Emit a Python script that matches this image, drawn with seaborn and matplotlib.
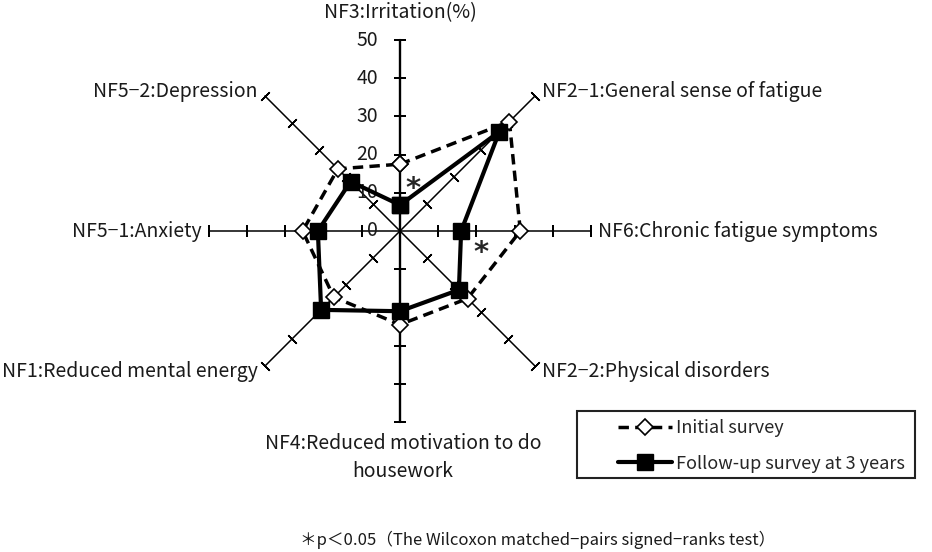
#Radar chart: initial survey vs follow-up survey at 3 years
import numpy as np
import matplotlib
matplotlib.use("Agg")
import matplotlib.pyplot as plt
import seaborn as sns
from matplotlib.patches import Rectangle

sns.set_style("white")
plt.rcParams["font.family"] = ["Noto Sans CJK JP", "DejaVu Sans"]
plt.rcParams["axes.unicode_minus"] = False

#Data (%)
categories = [
    "NF3:Irritation(%)",
    "NF2−1:General sense of fatigue",
    "NF6:Chronic fatigue symptoms",
    "NF2−2:Physical disorders",
    "NF4:Reduced motivation to do\nhousework",
    "NF1:Reduced mental energy",
    "NF5−1:Anxiety",
    "NF5−2:Depression",
]
initial = [17.5, 40.5, 31.5, 25.0, 24.5, 24.5, 25.5, 23.0]
followup = [6.8, 36.8, 16.0, 21.8, 21.0, 29.2, 21.5, 18.3]
ticks = [0, 10, 20, 30, 40, 50]
tick_labels = ["0", "10", "20", "30", "40", "50"]
series_labels = ["Initial survey", "Follow-up survey at 3 years"]
footnote = "＊p＜0.05（The Wilcoxon matched−pairs signed−ranks test）"

#Label placement (offset in points, alignment)
label_layout = [
    ((0, 20), "center", "center"),
    ((5, 3), "left", "center"),
    ((5, 0), "left", "center"),
    ((5, -4), "left", "center"),
    ((2, -8), "center", "top"),
    ((-5, -4), "right", "center"),
    ((-5, 0), "right", "center"),
    ((-5, 3), "right", "center"),
]

W, H = 932, 552
fig = plt.figure(figsize=(W / 100, H / 100), dpi=100)
cx, cy, R = 400, 231, 191
ax = fig.add_axes([(cx - R) / W, (H - cy - R) / H, 2 * R / W, 2 * R / H], projection="polar")
ax.set_theta_zero_location("N")
ax.set_theta_direction(-1)
ax.set_ylim(0, ticks[-1])
ax.grid(False)
ax.spines["polar"].set_visible(False)
ax.set_xticks([])
ax.set_yticks([])
ax.patch.set_alpha(0)

n = len(categories)
theta = np.arange(n) * 2 * np.pi / n

#Spokes with tick marks
for i, t in enumerate(theta):
    lw = 1.7 if i in (0, 4) else 1.1
    ax.plot([t, t], [0, ticks[-1]], color="black", lw=lw, zorder=1, clip_on=False)
    rot = 90 - np.degrees(t)
    ax.plot([t] * (len(ticks) - 1), ticks[1:], ls="none", color="black",
            marker=(2, 2, rot), markersize=8.5, markeredgewidth=1.1, zorder=1, clip_on=False)

#Value axis labels
for r, lbl in zip(ticks, tick_labels):
    ax.annotate(lbl, xy=(0, r), xytext=(-15.8, 0), textcoords="offset points",
                ha="right", va="center", fontsize=14, color="#1a1a1a")

#Category labels
for t, lbl, (off, ha, va) in zip(theta, categories, label_layout):
    ax.annotate(lbl, xy=(t, ticks[-1]), xytext=off, textcoords="offset points",
                ha=ha, va=va, fontsize=14, color="#1a1a1a", linespacing=1.4,
                multialignment="center", annotation_clip=False)

#Series
th_closed = np.append(theta, theta[0])
init_closed = np.append(initial, initial[0])
follow_closed = np.append(followup, followup[0])
l1, = ax.plot(th_closed, init_closed, color="black", lw=2.5, ls=(0, (3, 1.8)),
              marker="D", markersize=8, markerfacecolor="white", markeredgecolor="black",
              markeredgewidth=1.2, zorder=3, clip_on=False, label=series_labels[0])
l2, = ax.plot(th_closed, follow_closed, color="black", lw=3,
              marker="s", markersize=11, markerfacecolor="black", markeredgecolor="black",
              zorder=4, clip_on=False, label=series_labels[1])

#Significance marks
for x, y in [(413, 183), (481, 247)]:
    fig.text(x / W, 1 - (y + 14) / H, "*", family="DejaVu Sans", fontsize=21,
             fontweight="bold", ha="center", va="baseline")

#Legend box
fig.add_artist(Rectangle((577 / W, 1 - 478 / H), (915 - 577) / W, (478 - 411) / H,
                         transform=fig.transFigure, fill=False, edgecolor="#222222", lw=1.5))
fig.legend(handles=[l1, l2], labels=series_labels, loc="center left",
           bbox_to_anchor=(618 / W, 1 - 446 / H), frameon=False, fontsize=13,
           handlelength=3, handletextpad=0.2, borderpad=0, borderaxespad=0,
           labelspacing=0.95, numpoints=1)

fig.text(538 / W, 1 - 540 / H, footnote, fontsize=12, ha="center", va="center", color="#1a1a1a")

fig.savefig("out.png", dpi=100)
